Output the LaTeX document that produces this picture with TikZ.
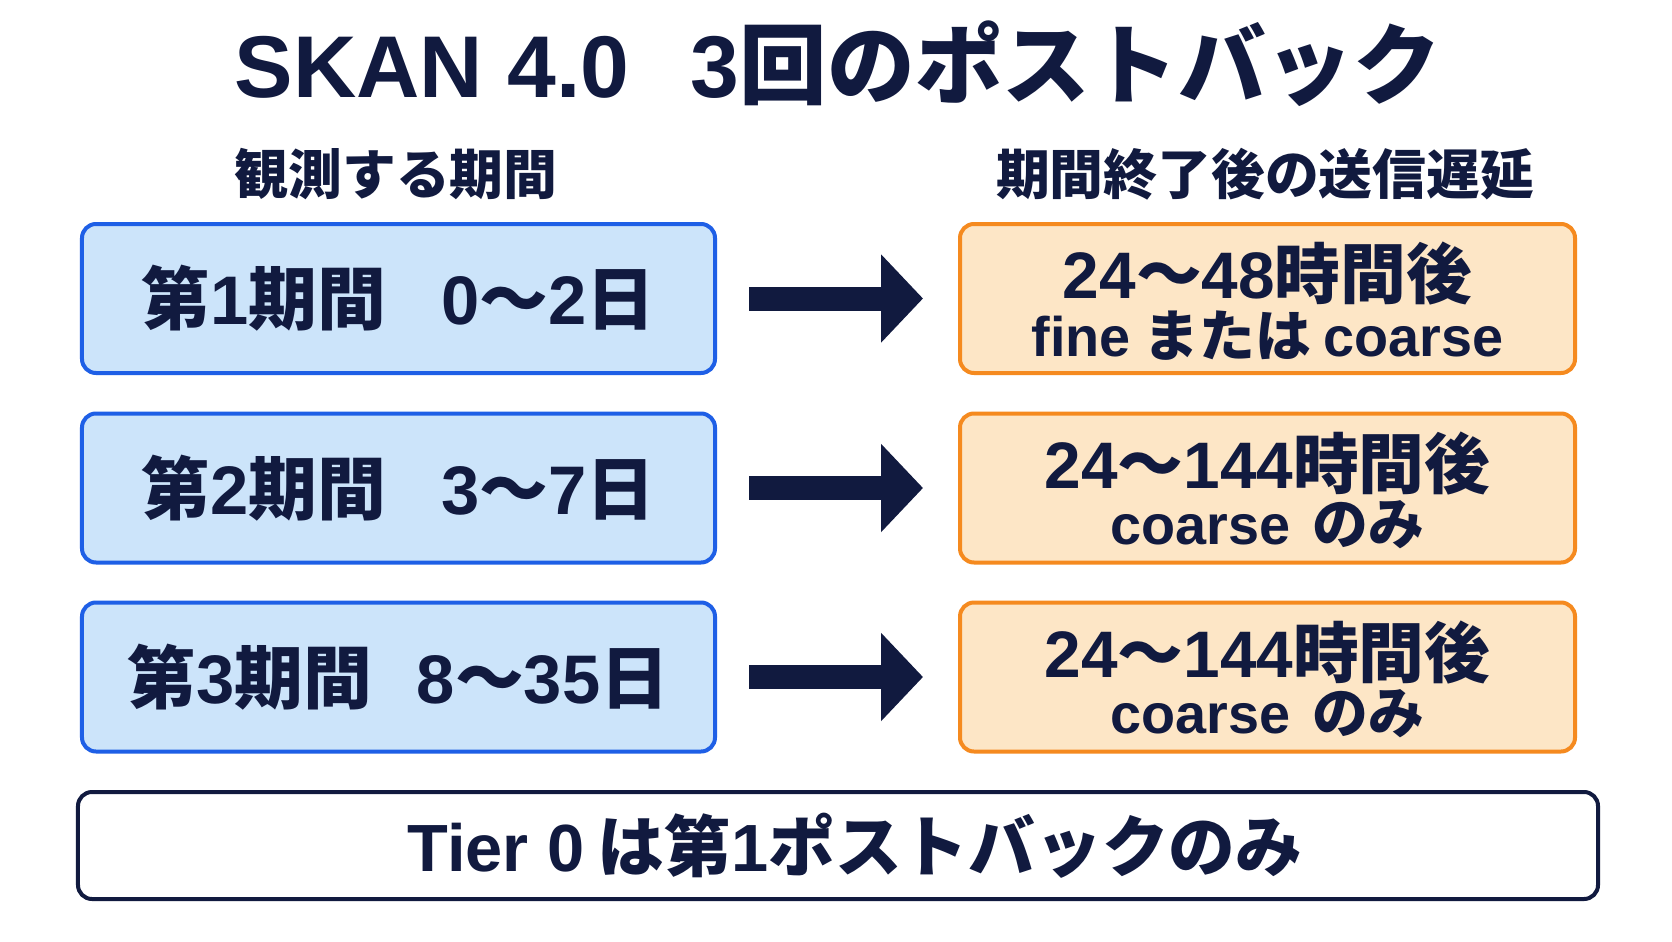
\documentclass[tikz,border=0pt]{standalone}
\usepackage{fontspec}
\setmainfont{Noto Sans CJK JP}
\newfontfamily\lat{Liberation Sans}
\newcommand{\lt}[1]{{\lat #1}}
\usetikzlibrary{arrows.meta}
\definecolor{ink}{HTML}{111A3F}
\definecolor{bluebd}{HTML}{1E5FE6}
\definecolor{bluefill}{HTML}{CCE4FA}
\definecolor{orangebd}{HTML}{F58A1F}
\definecolor{orangefill}{HTML}{FDE6C6}
\tikzset{
  period/.style={draw=bluebd, fill=bluefill, line width=4bp, rounded corners=14bp,
    minimum width=633bp, minimum height=149bp, inner sep=0pt,
    font=\fontsize{69}{72}\selectfont\bfseries},
  delay/.style={draw=orangebd, fill=orangefill, line width=4bp, rounded corners=14bp,
    minimum width=615bp, minimum height=149bp, inner sep=0pt},
  noteframe/.style={draw=ink, fill=white, line width=4bp, rounded corners=14bp,
    minimum width=1520bp, minimum height=107bp, inner sep=0pt},
  lineA/.style={anchor=base, inner sep=0pt, font=\fontsize{66}{70}\selectfont\bfseries},
  lineB/.style={anchor=base, inner sep=0pt, font=\fontsize{56}{64}\selectfont\bfseries},
  head/.style={inner sep=0pt, font=\fontsize{54}{60}\selectfont\bfseries},
  bigarrow/.style={line width=24bp, draw=ink, -{Triangle[length=42bp,width=86bp]},
    shorten <=32bp, shorten >=35bp}
}
\begin{document}
\begin{tikzpicture}[x=1bp,y=-1bp,every node/.style={text=ink}]
\useasboundingbox (0,0) rectangle (1672,941);
\fill[white] (0,0) rectangle (1672,941);

\node[inner sep=0pt, font=\fontsize{88}{96}\selectfont\bfseries] (title) at (838,64)
  {\lt{SKAN 4.0}\hspace{0.7em}\lt{3}回のポストバック};

\node[head] (hleft) at (396,174) {観測する期間};
\node[head] (hright) at (1265,174) {期間終了後の送信遅延};

\node[period] (p1) at (398.5,298.5) {第\lt{1}期間\hspace{0.8em}\lt{0}～\lt{2}日};
\node[period] (p2) at (398.5,488) {第\lt{2}期間\hspace{0.8em}\lt{3}～\lt{7}日};
\node[period] (p3) at (398.5,677) {第\lt{3}期間\hspace{0.65em}\lt{8}～\lt{35}日};

\node[delay] (d1) at (1267.5,298.5) {};
\node[delay] (d2) at (1267.5,488) {};
\node[delay] (d3) at (1267.5,677) {};

\node[lineA] (d1a) at ([yshift=0bp]d1.center) {\lt{24}～\lt{48}時間後};
\node[lineB] (d1b) at ([yshift=-58bp]d1.center) {\lt{fine} または \lt{coarse}};
\node[lineA] (d2a) at ([yshift=0bp]d2.center) {\lt{24}～\lt{144}時間後};
\node[lineB] (d2b) at ([yshift=-56bp]d2.center) {\lt{coarse}\hspace{0.4em}のみ};
\node[lineA] (d3a) at ([yshift=0bp]d3.center) {\lt{24}～\lt{144}時間後};
\node[lineB] (d3b) at ([yshift=-56bp]d3.center) {\lt{coarse}\hspace{0.4em}のみ};

\draw[bigarrow] (p1.east) -- (d1.west);
\draw[bigarrow] (p2.east) -- (d2.west);
\draw[bigarrow] (p3.east) -- (d3.west);

\node[noteframe] (note) at (838,845.5) {};
\node[inner sep=0pt, font=\fontsize{67}{72}\selectfont\bfseries] (notetext)
  at ([xshift=17bp]note.center) {\lt{Tier 0}\hspace{0.2em}は第\lt{1}ポストバックのみ};
\end{tikzpicture}
\end{document}
